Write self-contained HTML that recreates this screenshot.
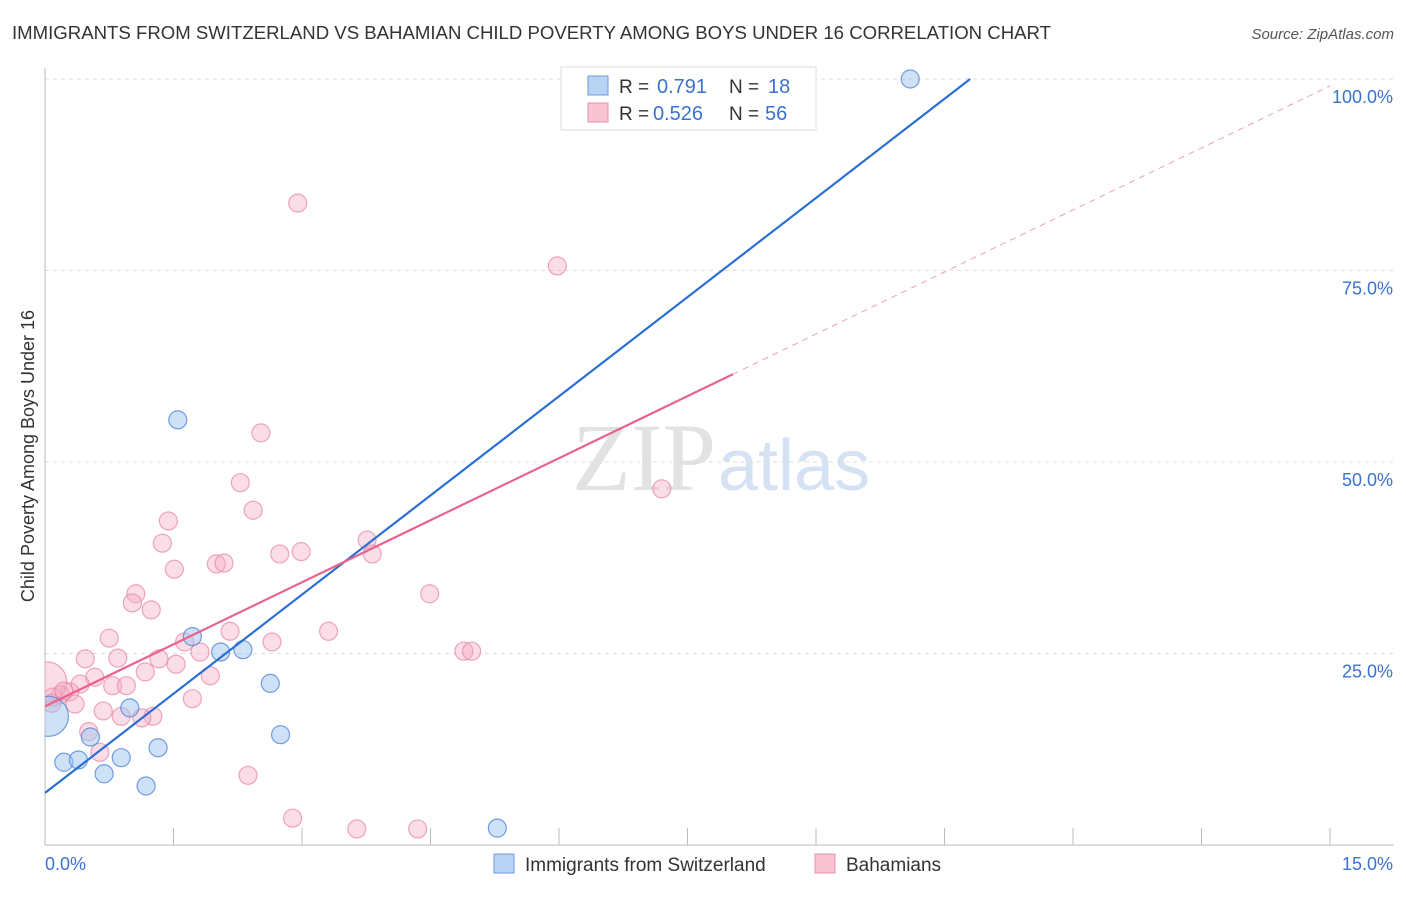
<!DOCTYPE html>
<html><head><meta charset="utf-8"><style>
body{margin:0;background:#fff;font-family:"Liberation Sans",sans-serif;}
</style></head><body>
<svg id="chart" width="1406" height="892" xmlns="http://www.w3.org/2000/svg">
<defs><clipPath id="plotclip"><rect x="45" y="60" width="1360" height="785"/></clipPath></defs>
<text x="12" y="39" font-size="18.6" fill="#333">IMMIGRANTS FROM SWITZERLAND VS BAHAMIAN CHILD POVERTY AMONG BOYS UNDER 16 CORRELATION CHART</text>
<text x="1394" y="39" font-size="15" fill="#555" font-style="italic" text-anchor="end">Source: ZipAtlas.com</text>
<text x="716" y="490" font-size="96" font-family="Liberation Serif" fill="#e2e2e2" text-anchor="end">ZIP</text>
<text x="718" y="490" font-size="72" fill="#d4e2f4">atlas</text>
<g id="grid"></g>
<g id="axes"></g>
<g id="marks" clip-path="url(#plotclip)"></g>
<text transform="translate(34,456) rotate(-90)" font-size="18" fill="#333" text-anchor="middle">Child Poverty Among Boys Under 16</text>
<g>
<rect x="561" y="67" width="255" height="63" fill="#fff" stroke="#ddd"/>
<rect x="588" y="76" width="20" height="19" fill="#b9d3f5" stroke="#6f9be0"/>
<text x="619" y="93" font-size="19" fill="#333">R =</text>
<text x="657" y="93" font-size="20" fill="#3a72d0">0.791</text>
<text x="729" y="93" font-size="19" fill="#333">N =</text>
<text x="768" y="93" font-size="20" fill="#3a72d0">18</text>
<rect x="588" y="103" width="20" height="19" fill="#f8c4d4" stroke="#e890ad"/>
<text x="619" y="120" font-size="19" fill="#333">R =</text>
<text x="653" y="120" font-size="20" fill="#3a72d0">0.526</text>
<text x="729" y="120" font-size="19" fill="#333">N =</text>
<text x="765" y="120" font-size="20" fill="#3a72d0">56</text>
</g>
<g>
<rect x="494" y="854" width="20" height="19" fill="#b9d3f5" stroke="#6f9be0"/>
<text x="525" y="871" font-size="19" fill="#333">Immigrants from Switzerland</text>
<rect x="815" y="854" width="20" height="19" fill="#f8c4d4" stroke="#e890ad"/>
<text x="846" y="871" font-size="19" fill="#333">Bahamians</text>
</g>
</svg>
<script>
const xTicks=[0,1.5,3,4.5,6,7.5,9,10.5,12,13.5,15];
const yTicks=[25,50,75,100];
const yTickLabels=["25.0%","50.0%","75.0%","100.0%"];
const xTickLabels=["0.0%","15.0%"];
const swissX=[10.10,1.55,1.72,2.05,2.31,2.63,2.75,0.99,0.53,0.22,0.39,0.69,0.89,1.32,1.18,5.28,0.04,7.21];
const swissY=[100,55.5,27.2,25.2,25.5,21.1,14.4,17.9,14.1,10.8,11.1,9.3,11.4,12.7,7.7,2.2,16.8,100];
const swissBig=[0,0,0,0,0,0,0,0,0,0,0,0,0,0,0,0,1,0];
const bahX=[2.95,5.98,2.52,7.20,2.28,2.43,1.44,1.37,2.00,2.09,1.51,2.74,2.99,3.76,3.82,4.49,1.06,1.02,1.24,0.75,2.16,2.65,1.63,4.89,4.98,0.47,0.85,1.33,1.81,1.53,1.17,0.58,1.93,0.79,0.95,0.41,0.29,0.18,0.09,0.02,0.35,0.68,0.89,1.26,1.13,1.72,0.51,0.64,2.37,2.89,3.64,4.35,3.31,0.08,0.22];
const bahY=[83.8,75.6,53.8,46.5,47.3,43.7,42.3,39.4,36.7,36.8,36.0,38.0,38.3,39.8,38.0,32.8,32.8,31.6,30.7,27.0,27.9,26.5,26.5,25.3,25.3,24.3,24.4,24.3,25.2,23.6,22.6,21.9,22.1,20.8,20.8,21.0,20.0,19.6,19.3,21.3,18.4,17.5,16.8,16.8,16.6,19.1,14.8,12.1,9.1,3.5,2.1,2.1,27.9,18.5,20.1];
const bahBig=bahX.map((v,i)=>i===39?1:0);
const swissTrend=[6.8,8.63];
const bahTrend=[18.1,5.4];
const bahSolidEnd=8.03;

const NS="http://www.w3.org/2000/svg";
const X=v=>45+v/15*1285;
const Y=v=>845-v/100*766;
function mk(tag,attrs,parent){const e=document.createElementNS(NS,tag);for(const k in attrs)e.setAttribute(k,attrs[k]);document.getElementById(parent).appendChild(e);return e;}

yTicks.forEach((t,i)=>{
 const g=mk('line',{x1:45,x2:1394,y1:Y(t),y2:Y(t),stroke:'#ddd','stroke-dasharray':'4,4'},'grid');
 
 
 const l=mk('text',{x:1393,y:Y(t)+24,'font-size':18,fill:'#3a72d0','text-anchor':'end'},'axes');
 l.textContent=yTickLabels[i];
 
 
});
const ax=mk('line',{x1:45,x2:1394,y1:845,y2:845,stroke:'#bbb'},'axes');


const ay=mk('line',{x1:45,x2:45,y1:68,y2:845,stroke:'#bbb'},'axes');


xTicks.forEach(t=>{
 const tk=mk('line',{x1:X(t),x2:X(t),y1:828,y2:845,stroke:'#bbb'},'axes');
 
 
});
const xl0=mk('text',{x:45,y:870,'font-size':18,fill:'#3a72d0'},'axes');
xl0.textContent=xTickLabels[0];


const xl1=mk('text',{x:1393,y:870,'font-size':18,fill:'#3a72d0','text-anchor':'end'},'axes');
xl1.textContent=xTickLabels[1];



bahX.forEach((v,i)=>{
 const c=mk('circle',{cx:X(v),cy:Y(bahY[i]),r:bahBig[i]?20:9,fill:'rgba(245,170,195,0.4)',stroke:'rgba(230,130,165,0.7)','stroke-width':1.2},'marks');
 
 
});
swissX.forEach((v,i)=>{
 const c=mk('circle',{cx:X(v),cy:Y(swissY[i]),r:swissBig[i]?20:9,fill:'rgba(160,195,240,0.5)',stroke:'rgba(80,135,215,0.8)','stroke-width':1.2},'marks');
 
 
});
const sEnd=(100-swissTrend[0])/swissTrend[1];
const sl=mk('line',{x1:X(0),y1:Y(swissTrend[0]),x2:X(sEnd),y2:Y(100),stroke:'#2a6fd6','stroke-width':2.2},'marks');


const pl=mk('line',{x1:X(0),y1:Y(bahTrend[0]),x2:X(bahSolidEnd),y2:Y(bahTrend[0]+bahTrend[1]*bahSolidEnd),stroke:'#e8638f','stroke-width':2.2},'marks');


const pd=mk('line',{x1:X(bahSolidEnd),y1:Y(bahTrend[0]+bahTrend[1]*bahSolidEnd),x2:X(15),y2:Y(bahTrend[0]+bahTrend[1]*15),stroke:'#e8a0b8','stroke-width':1,'stroke-dasharray':'6,5'},'marks');


</script>
</body></html>
